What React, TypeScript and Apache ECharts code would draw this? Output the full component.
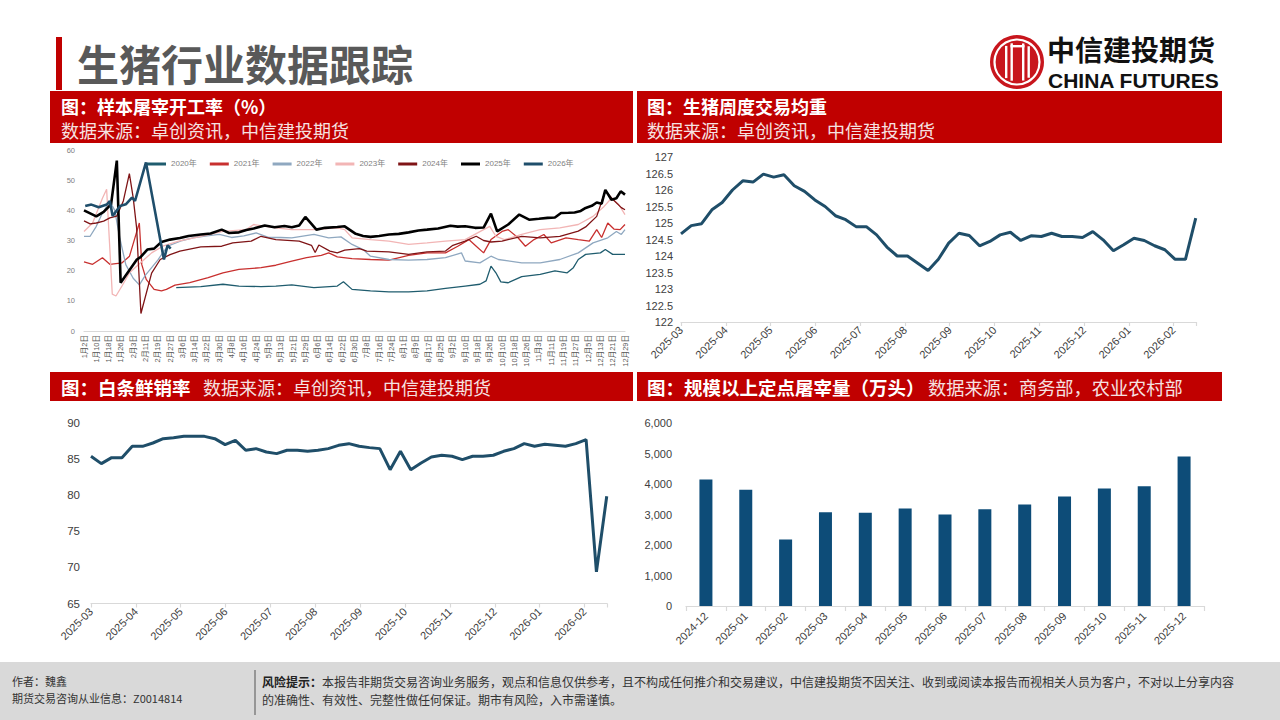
import React, { useEffect, useRef } from 'react';
import * as echarts from 'echarts';

// ---------- data ----------
const dayLabels = ['1月2日','1月10日','1月18日','1月26日','2月3日','2月11日','2月19日','2月27日','3月6日','3月14日','3月22日','3月30日','4月8日','4月16日','4月24日','5月5日','5月13日','5月21日','5月29日','6月6日','6月14日','6月22日','6月30日','7月8日','7月16日','7月24日','8月1日','8月9日','8月17日','8月25日','9月2日','9月10日','9月18日','9月26日','10月10日','10月18日','10月26日','11月3日','11月11日','11月19日','11月27日','12月5日','12月13日','12月21日','12月29日'];

const yearNames = ['2020年','2021年','2022年','2023年','2024年','2025年','2026年'];

const s2020: [number, number][] = [[7.5,14.4],[9.5,14.7],[11.3,15.5],[12.6,14.9],[14.4,14.7],[15.6,14.9],[16.9,15.3],[18.7,14.4],[20.6,14.9],[21.1,16.3],[21.8,13.8],[23.3,13.3],[24.8,13],[26.4,13],[27.9,13.3],[29.4,14.1],[31,14.9],[32.2,15.5],[32.7,16.6],[33.1,21.5],[33.5,19.3],[33.9,16.3],[34.5,16],[35.6,18],[37.1,18.8],[38.3,19.9],[39.3,19.3],[39.8,21],[40.2,23.7],[40.8,25.4],[42,25.9],[42.4,27],[43,25.4],[44,25.4]];
const s2021: [number, number][] = [[0,22.9],[0.7,22.1],[1.5,24.3],[2.1,22.1],[3.1,22.6],[3.7,24.8],[4.1,30.3],[4.5,35.8],[4.7,22],[5.06,17.1],[5.7,13.8],[6.3,13.3],[6.7,13.8],[7.4,15.2],[8.6,16],[10.1,17.7],[11.3,19.3],[12.6,20.4],[14.4,21],[15.6,21.8],[16.9,23.2],[18.1,24.3],[19.3,25.1],[19.9,25.9],[20.6,24.6],[21.8,24],[23.3,23.7],[24.8,23.5],[26.4,25.1],[27.9,25.9],[29.4,25.9],[30.4,28.1],[31.3,30.3],[31.9,28.1],[32.5,25.9],[33.1,30.3],[34,33],[34.5,33.6],[35.3,30.9],[35.9,28.1],[36.6,30.3],[37.4,32],[38,29.2],[39.2,30.9],[40.2,30.3],[41.1,29.8],[41.7,33.6],[42.1,31],[42.6,35.8],[43.1,33.8],[43.6,33.6],[44,35.3]];
const s2022: [number, number][] = [[0,31.4],[0.5,31.4],[1,34.7],[1.5,39.1],[2.1,43],[2.5,40],[2.9,31],[3.4,22],[4,17.5],[4.5,15.3],[5,18.5],[5.5,21],[6,23.5],[6.5,26.5],[7,28.5],[8,30],[9,31],[10,31.5],[11,32],[12,31],[13,31.5],[14,32.5],[15,31],[16,31],[16.9,30.9],[18.7,32],[19.9,30.9],[20.9,31.2],[21.8,28.7],[22.7,27],[23.3,24.8],[24.8,23.7],[26.4,23.5],[27.9,23.7],[29.4,24.3],[30.7,25.9],[31,23.2],[32.2,22.6],[33.1,24.8],[33.7,23.7],[35.6,22.6],[37.1,22.6],[38.7,23.7],[40.2,25.9],[41.4,29.2],[42.6,30.9],[43.3,33],[43.7,32],[44,33.6]];
const s2023: [number, number][] = [[0,33],[0.7,35.8],[1.5,44],[1.84,47],[2.3,12.2],[2.6,11.6],[3.1,15],[3.7,19.3],[4.6,22.6],[5.5,25.9],[6.4,28.1],[7.7,29.8],[9.5,31.4],[11.3,33],[13.2,33.6],[13.8,35.3],[15.6,34.2],[16.9,33.6],[18.7,33.6],[20.6,34.2],[21.2,33.6],[21.8,30.9],[23.3,30.3],[24.8,29.8],[26.4,28.7],[27.9,29.2],[29.4,29.8],[31,30.3],[32.5,33.6],[33,34.7],[33.5,31.4],[34.2,30.3],[35.6,32],[37.1,33.6],[38.7,34.2],[40.2,35.3],[41.4,38],[42.3,41.3],[42.9,44],[43.5,41.9],[44,38.6]];
const s2024: [number, number][] = [[0,36.5],[0.5,35.5],[1,35.8],[1.6,36.4],[2.1,37.5],[2.66,38.1],[3.2,43.1],[3.69,52.2],[4,44.2],[4.28,34.2],[4.63,5.8],[5.5,19.2],[6.2,23.7],[7,25.3],[7.8,26.5],[9.5,27.9],[11.2,28.1],[12.1,29.2],[13.6,29.8],[14.4,31.4],[15.6,30.3],[17.5,29.8],[18.5,28.4],[18.8,26],[19.1,28.5],[20,26.5],[20.6,25.9],[21.2,26.8],[22.4,27.3],[23,26.5],[24.8,26.2],[26.4,25.4],[27.9,26.2],[29.4,26.5],[30,28.4],[31,29.8],[31.9,31.4],[32.5,30],[33.1,29.5],[34,29.8],[35.6,31.4],[37.1,30.9],[38.7,31.4],[40.2,33.1],[40.8,34.5],[41.7,38],[42.4,46.5],[43,43.7],[43.7,40.9],[44,40.2]];
const s2025: [number, number][] = [[0,40],[1,38],[1.6,39.5],[2.2,42],[2.67,56.5],[2.98,16],[4.3,23.7],[4.6,24.5],[5.15,27],[5.7,27.3],[6.3,29.5],[7,30.3],[7.8,30.8],[8.5,31.5],[9.5,32],[10.3,32.3],[11.2,33.6],[11.8,32.5],[12.6,32.7],[13.2,33.5],[13.8,34],[14.7,35],[15.5,34.4],[16.3,34.8],[16.9,34.4],[17.5,35],[18,37.8],[18.5,35.5],[18.9,33.6],[19.6,34.2],[20.6,34.5],[21.2,34.7],[22.1,32.2],[22.7,31.5],[23.3,31.2],[24,31.5],[24.8,32],[25.6,32.2],[26.4,32.7],[27.2,33.3],[27.9,33.6],[28.8,34],[29.8,34.9],[30.4,34.6],[31,34.7],[31.8,34.2],[32.5,34.3],[33.1,38.9],[33.6,33],[34.5,35.3],[35.4,38.6],[36.2,36.9],[37,37.2],[37.7,37.5],[38.3,37.6],[38.8,39.1],[39.4,39.2],[39.9,39.3],[40.4,39.8],[40.8,40.8],[41.3,41.5],[41.7,42.6],[42.1,42.2],[42.4,46.8],[42.9,43.5],[43.3,44],[43.65,46.3],[44,45.2]];
const s2026: [number, number][] = [[0.1,41.4],[0.6,41.9],[1.2,41],[1.85,41.9],[2.1,43.1],[2.33,38.1],[2.93,41.4],[3.4,42],[3.9,44.2],[4.15,43.1],[5.04,55.9],[6.5,23.7],[6.8,28.4],[7.05,27.3]];

const monthLabels = ['2025-03','2025-04','2025-05','2025-06','2025-07','2025-08','2025-09','2025-10','2025-11','2025-12','2026-01','2026-02'];
const weeklyWeight = [124.67,124.92,124.98,125.40,125.62,126.0,126.28,126.24,126.48,126.39,126.46,126.13,125.96,125.70,125.50,125.22,125.10,124.89,124.89,124.64,124.27,124.0,124.0,123.78,123.56,123.9,124.39,124.69,124.62,124.31,124.44,124.64,124.72,124.47,124.61,124.59,124.69,124.59,124.59,124.56,124.74,124.49,124.16,124.34,124.54,124.47,124.31,124.19,123.9,123.9,125.15];
const freshSalesRate = [85.39,84.37,85.2,85.2,86.77,86.77,87.23,87.83,87.97,88.15,88.15,88.15,87.83,87.0,87.6,86.22,86.45,85.99,85.76,86.22,86.22,86.08,86.22,86.45,86.91,87.14,86.77,86.59,86.45,83.54,86.08,83.54,84.46,85.29,85.53,85.39,84.93,85.39,85.39,85.53,86.08,86.45,87.14,86.77,87.05,86.91,86.77,87.14,87.69,69.38,79.85];

const barMonths = ['2024-12','2025-01','2025-02','2025-03','2025-04','2025-05','2025-06','2025-07','2025-08','2025-09','2025-10','2025-11','2025-12'];
const slaughterVolume = [4150,3810,2180,3070,3060,3200,3000,3170,3330,3590,3850,3930,4900];

// ---------- styles ----------
const CJK = '"Noto Sans CJK SC", sans-serif';
const NUM = '"Liberation Sans", "Noto Sans CJK SC", sans-serif';
const RED = '#C00000';
const LINE_BLUE = '#1F4E69';
const WEEK = 7 / 30.45; // one week expressed in months on the month axis

const toWeekly = (vals: number[]) => vals.map((v, i) => [i * WEEK, v]);

const yearColors = ['#1F5C6E', '#C8302F', '#8FA8C0', '#F2B5B5', '#7F1416', '#000000', '#1F4E6B'];
const yearWidths = [1.3, 1.3, 1.3, 1.3, 1.3, 2.6, 2.6];
const yearData = [s2020, s2021, s2022, s2023, s2024, s2025, s2026];

const grayAxis = { lineStyle: { color: '#d9d9d9', width: 1.2 } };

function monthAxis(gridIndex: number) {
  return {
    type: 'value', gridIndex, min: 0, max: 11.5, interval: 1,
    axisLine: { show: true, ...grayAxis },
    axisTick: { show: true, length: 4, ...grayAxis },
    splitLine: { show: false },
    axisLabel: {
      rotate: 45, fontSize: 11, color: '#404040', fontFamily: NUM, margin: 6,
      formatter: (v: number) => (Number.isInteger(v) && monthLabels[v]) ? monthLabels[v] : '',
    },
  };
}

function txt(text: string, x: number, y: number, size: number, fill: string, weight = 'normal', family = CJK) {
  return {
    type: 'text', x, y, silent: true,
    style: { text, fill, fontSize: size, fontWeight: weight, fontFamily: family, align: 'left', textAlign: 'left', verticalAlign: 'middle', textVerticalAlign: 'middle' },
  };
}

function logoBars() {
  const cx = 1017, cy = 62;
  const offs = [-12, -6.5, 5, 10.5];
  const els: any[] = [];
  offs.forEach((dx) => {
    const h = Math.sqrt(Math.max(0, 19.5 * 19.5 - (dx + 1) * (dx + 1)));
    els.push({ type: 'rect', shape: { x: cx + dx, y: cy - h, width: 2.4, height: 2 * h }, style: { fill: '#fff' }, silent: true });
  });
  els.push({ type: 'rect', shape: { x: cx - 6.5, y: cy - 17, width: 14, height: 2.4 }, style: { fill: '#fff' }, silent: true });
  return els;
}

const option: any = {
  animation: false,
  backgroundColor: '#ffffff',
  textStyle: { fontFamily: NUM },
  legend: {
    left: 142, top: 155, itemWidth: 19, itemHeight: 3, itemGap: 13, icon: 'rect',
    textStyle: { fontSize: 8, color: '#7f7f7f', fontFamily: NUM },
    data: yearNames,
  },
  grid: [
    { left: 84, top: 150, width: 541, height: 181 },
    { left: 681, top: 157, width: 515, height: 165 },
    { left: 91, top: 423, width: 516, height: 180.5 },
    { left: 686, top: 423, width: 518, height: 183 },
  ],
  xAxis: [
    {
      type: 'value', gridIndex: 0, min: 0, max: 44, interval: 1,
      axisLine: { show: true, ...grayAxis },
      axisTick: { show: false },
      splitLine: { show: false },
      axisLabel: {
        rotate: 90, fontSize: 7.5, color: '#595959', fontFamily: NUM, margin: 4,
        formatter: (v: number) => (Number.isInteger(v) && dayLabels[v]) ? dayLabels[v] : '',
      },
    },
    monthAxis(1),
    monthAxis(2),
    {
      type: 'category', gridIndex: 3, data: barMonths,
      axisLine: { show: true, ...grayAxis },
      axisTick: { show: true, length: 5, alignWithLabel: false, ...grayAxis },
      axisLabel: { rotate: 45, fontSize: 11, color: '#404040', fontFamily: NUM, margin: 8, interval: 0 },
    },
  ],
  yAxis: [
    {
      type: 'value', gridIndex: 0, min: 0, max: 60, interval: 10,
      axisLine: { show: false }, axisTick: { show: false }, splitLine: { show: false },
      axisLabel: { fontSize: 7.5, color: '#7f7f7f', margin: 9 },
    },
    {
      type: 'value', gridIndex: 1, min: 122, max: 127, interval: 0.5,
      axisLine: { show: false }, axisTick: { show: false }, splitLine: { show: false },
      axisLabel: { fontSize: 11, color: '#404040', margin: 8 },
    },
    {
      type: 'value', gridIndex: 2, min: 65, max: 90, interval: 5,
      axisLine: { show: false }, axisTick: { show: false }, splitLine: { show: false },
      axisLabel: { fontSize: 11.5, color: '#404040', margin: 11 },
    },
    {
      type: 'value', gridIndex: 3, min: 0, max: 6000, interval: 1000,
      axisLine: { show: false }, axisTick: { show: false }, splitLine: { show: false },
      axisLabel: { fontSize: 11, color: '#404040', margin: 14, formatter: (v: number) => v.toLocaleString('en-US') },
    },
  ],
  series: [
    ...yearNames.map((name, i) => ({
      name, type: 'line', xAxisIndex: 0, yAxisIndex: 0, data: yearData[i],
      showSymbol: false, symbol: 'none', z: i >= 5 ? 5 : 3,
      lineStyle: { color: yearColors[i], width: yearWidths[i] },
      itemStyle: { color: yearColors[i] },
    })),
    {
      name: '生猪周度交易均重', type: 'line', xAxisIndex: 1, yAxisIndex: 1, data: toWeekly(weeklyWeight),
      showSymbol: false, symbol: 'none', lineStyle: { color: LINE_BLUE, width: 3 }, itemStyle: { color: LINE_BLUE },
    },
    {
      name: '白条鲜销率', type: 'line', xAxisIndex: 2, yAxisIndex: 2, data: toWeekly(freshSalesRate),
      showSymbol: false, symbol: 'none', lineStyle: { color: LINE_BLUE, width: 3 }, itemStyle: { color: LINE_BLUE },
    },
    {
      name: '规模以上定点屠宰量', type: 'bar', xAxisIndex: 3, yAxisIndex: 3, data: slaughterVolume,
      barWidth: 13, itemStyle: { color: '#0D4C78' },
    },
  ],
  graphic: [
    // title
    { type: 'rect', shape: { x: 56, y: 37, width: 6, height: 53 }, style: { fill: RED }, silent: true },
    txt('生猪行业数据跟踪', 77, 62, 42, '#595959', 'bold'),
    // logo
    { type: 'circle', shape: { cx: 1017, cy: 62, r: 27 }, style: { fill: '#C8161D' }, silent: true },
    { type: 'circle', shape: { cx: 1017, cy: 62, r: 22.5 }, style: { fill: 'none', stroke: '#fff', lineWidth: 2.2 }, silent: true },
    ...logoBars(),
    txt('中信建投期货', 1047, 49, 28, '#111111', 'bold'),
    txt('CHINA FUTURES', 1048, 80, 21, '#111111', 'bold', '"Liberation Sans", sans-serif'),
    // panel headers
    { type: 'rect', shape: { x: 50, y: 91, width: 583, height: 52 }, style: { fill: RED }, silent: true },
    { type: 'rect', shape: { x: 637, y: 91, width: 585, height: 52 }, style: { fill: RED }, silent: true },
    { type: 'rect', shape: { x: 50, y: 372, width: 583, height: 29 }, style: { fill: RED }, silent: true },
    { type: 'rect', shape: { x: 637, y: 372, width: 585, height: 29 }, style: { fill: RED }, silent: true },
    txt('图：样本屠宰开工率（%）', 61, 106, 18, '#ffffff', 'bold'),
    txt('数据来源：卓创资讯，中信建投期货', 61, 130, 18, '#f6e2e2'),
    txt('图：生猪周度交易均重', 647, 106, 18, '#ffffff', 'bold'),
    txt('数据来源：卓创资讯，中信建投期货', 647, 130, 18, '#f6e2e2'),
    txt('图：白条鲜销率', 61, 387, 18.5, '#ffffff', 'bold'),
    txt('数据来源：卓创资讯，中信建投期货', 203, 387, 18, '#f6e2e2'),
    txt('图：规模以上定点屠宰量（万头）', 647, 387, 18.5, '#ffffff', 'bold'),
    txt('数据来源：商务部，农业农村部', 928, 387, 18.2, '#f6e2e2'),
    // footer
    { type: 'rect', shape: { x: 0, y: 662, width: 1280, height: 58 }, style: { fill: '#d9d9d9' }, silent: true },
    txt('作者：魏鑫', 12, 681, 11, '#333333'),
    txt('期货交易咨询从业信息：Z0014814', 12, 698, 11, '#333333'),
    { type: 'line', shape: { x1: 255, y1: 670, x2: 255, y2: 715 }, style: { stroke: '#7f7f7f', lineWidth: 1.5 }, silent: true },
    txt('风险提示：', 262, 681, 12, '#222222', 'bold'),
    txt('本报告非期货交易咨询业务服务，观点和信息仅供参考，且不构成任何推介和交易建议，中信建投期货不因关注、收到或阅读本报告而视相关人员为客户，不对以上分享内容', 322, 681, 12, '#333333'),
    txt('的准确性、有效性、完整性做任何保证。期市有风险，入市需谨慎。', 262, 699, 12, '#333333'),
  ],
};

export default function App() {
  const ref = useRef<HTMLDivElement>(null);
  useEffect(() => {
    if (!ref.current) return;
    const chart = echarts.init(ref.current, null, { renderer: 'svg' });
    chart.setOption(option);
    return () => chart.dispose();
  }, []);
  return (
    <div
      ref={ref}
      style={{ position: 'fixed', left: 0, top: 0, width: 1280, height: 720, background: '#ffffff' }}
    />
  );
}
